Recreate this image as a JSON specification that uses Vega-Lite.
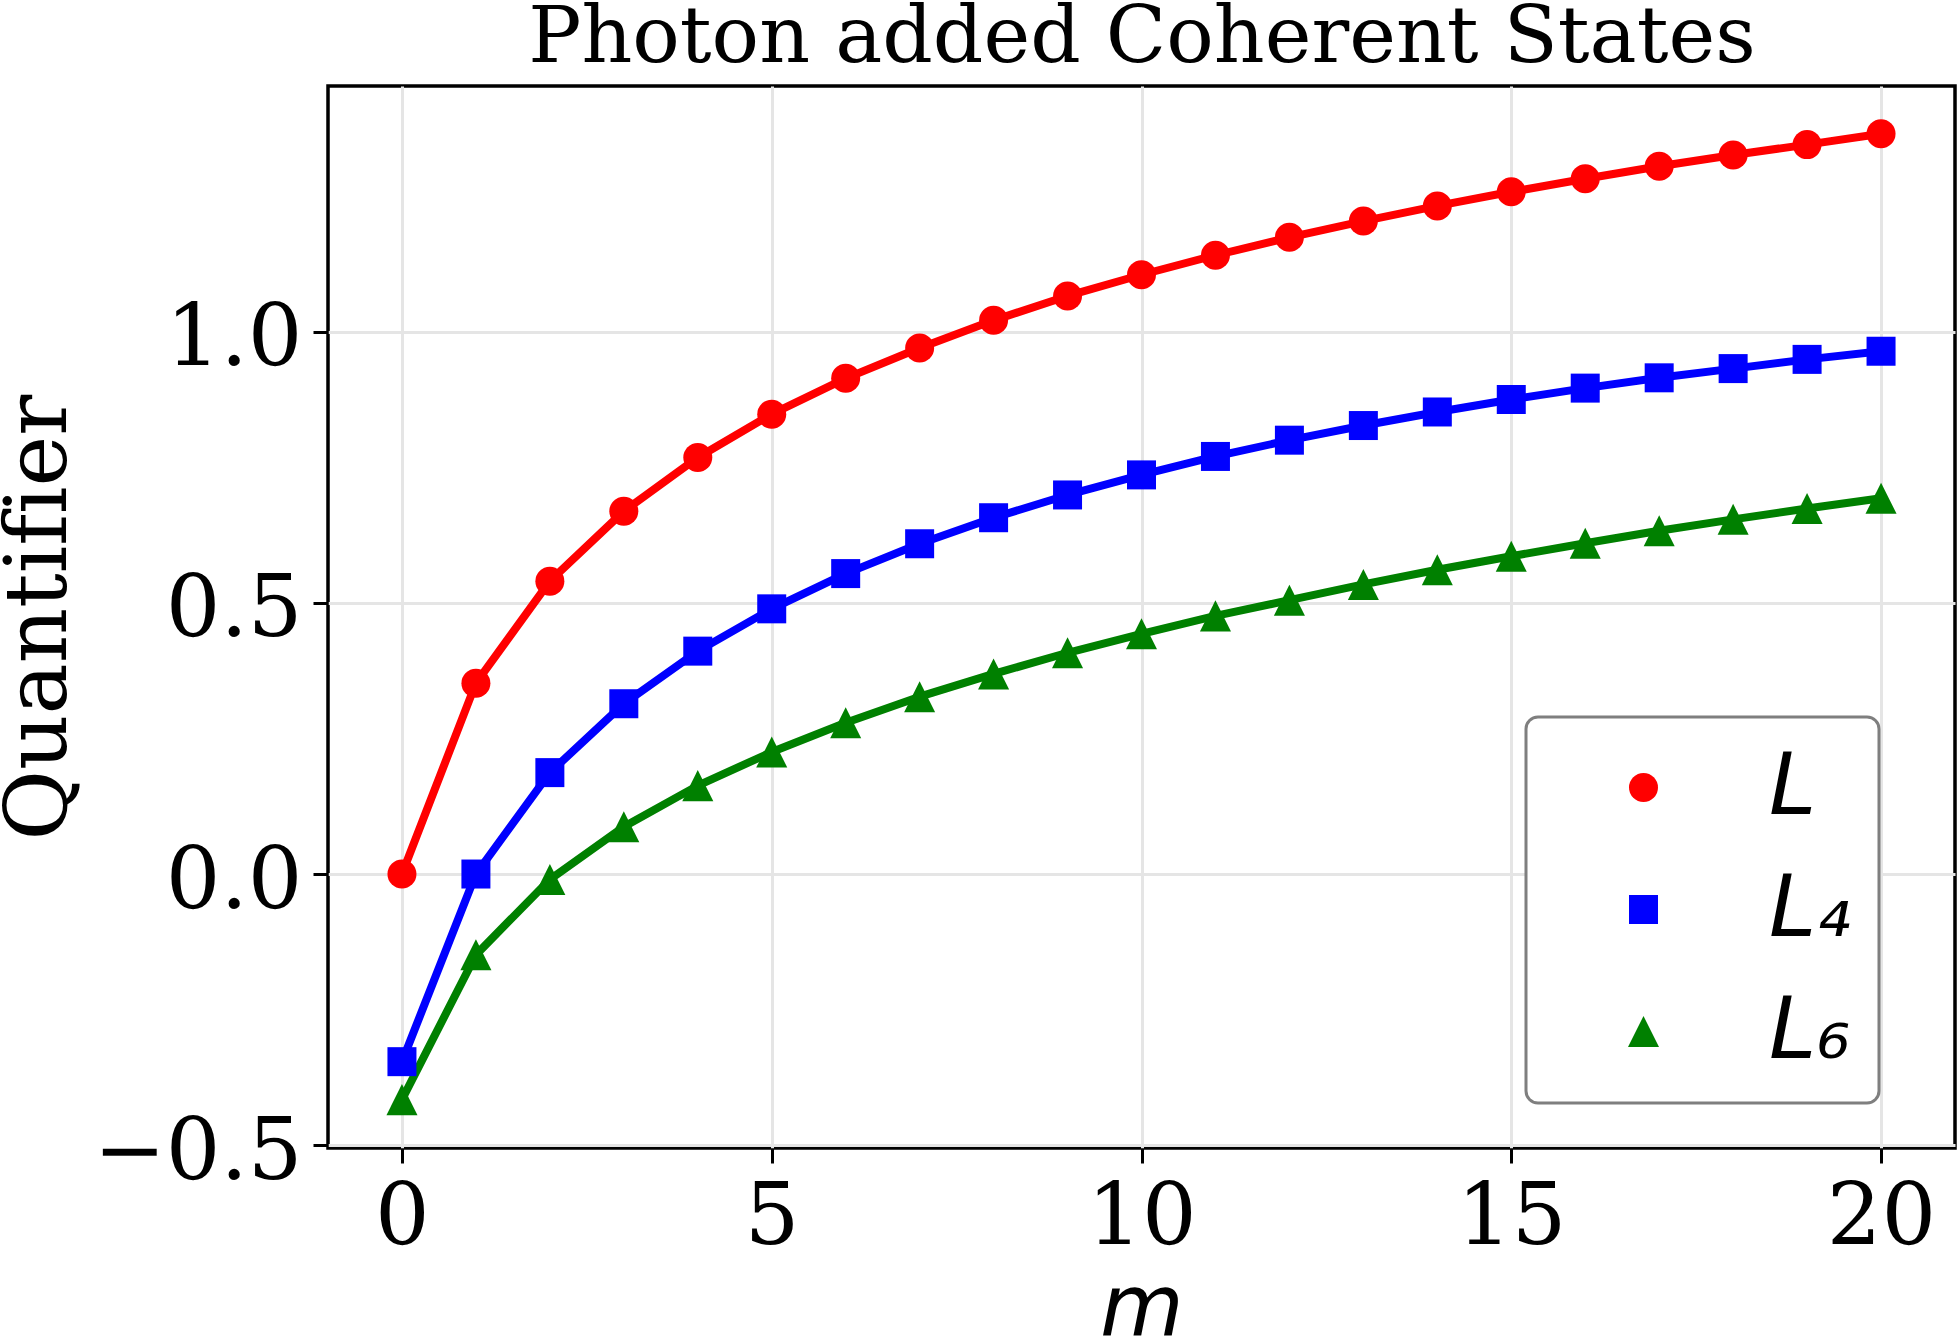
{
  "$schema": "https://vega.github.io/schema/vega-lite/v6.json",
  "width": 1627,
  "height": 1062,
  "autosize": {"type": "none"},
  "padding": {"left": 328, "top": 86, "right": 3, "bottom": 188},
  "background": "white",
  "config": {
    "view": {"stroke": "black", "strokeWidth": 3.5},
    "axis": {
      "grid": true,
      "gridColor": "#e5e5e5",
      "gridWidth": 3,
      "domain": false,
      "ticks": true,
      "tickColor": "black",
      "tickWidth": 3,
      "tickSize": 15,
      "labelFont": "DejaVu Serif",
      "labelFontSize": 86,
      "labelColor": "black",
      "labelLimit": 0,
      "titleColor": "black",
      "titleFontWeight": "normal",
      "titleLimit": 0
    },
    "legend": {"strokeWidth": 3}
  },
  "data": {
    "values": [
      {"m": 0, "value": 0.0, "series": "L"},
      {"m": 1, "value": 0.352, "series": "L"},
      {"m": 2, "value": 0.54, "series": "L"},
      {"m": 3, "value": 0.669, "series": "L"},
      {"m": 4, "value": 0.768, "series": "L"},
      {"m": 5, "value": 0.848, "series": "L"},
      {"m": 6, "value": 0.914, "series": "L"},
      {"m": 7, "value": 0.97, "series": "L"},
      {"m": 8, "value": 1.021, "series": "L"},
      {"m": 9, "value": 1.066, "series": "L"},
      {"m": 10, "value": 1.105, "series": "L"},
      {"m": 11, "value": 1.141, "series": "L"},
      {"m": 12, "value": 1.174, "series": "L"},
      {"m": 13, "value": 1.204, "series": "L"},
      {"m": 14, "value": 1.232, "series": "L"},
      {"m": 15, "value": 1.258, "series": "L"},
      {"m": 16, "value": 1.282, "series": "L"},
      {"m": 17, "value": 1.305, "series": "L"},
      {"m": 18, "value": 1.326, "series": "L"},
      {"m": 19, "value": 1.345, "series": "L"},
      {"m": 20, "value": 1.365, "series": "L"},
      {"m": 0, "value": -0.346, "series": "L₄"},
      {"m": 1, "value": 0.0, "series": "L₄"},
      {"m": 2, "value": 0.187, "series": "L₄"},
      {"m": 3, "value": 0.314, "series": "L₄"},
      {"m": 4, "value": 0.411, "series": "L₄"},
      {"m": 5, "value": 0.489, "series": "L₄"},
      {"m": 6, "value": 0.554, "series": "L₄"},
      {"m": 7, "value": 0.609, "series": "L₄"},
      {"m": 8, "value": 0.657, "series": "L₄"},
      {"m": 9, "value": 0.699, "series": "L₄"},
      {"m": 10, "value": 0.736, "series": "L₄"},
      {"m": 11, "value": 0.77, "series": "L₄"},
      {"m": 12, "value": 0.8, "series": "L₄"},
      {"m": 13, "value": 0.827, "series": "L₄"},
      {"m": 14, "value": 0.852, "series": "L₄"},
      {"m": 15, "value": 0.875, "series": "L₄"},
      {"m": 16, "value": 0.896, "series": "L₄"},
      {"m": 17, "value": 0.915, "series": "L₄"},
      {"m": 18, "value": 0.932, "series": "L₄"},
      {"m": 19, "value": 0.949, "series": "L₄"},
      {"m": 20, "value": 0.964, "series": "L₄"},
      {"m": 0, "value": -0.416, "series": "L₆"},
      {"m": 1, "value": -0.149, "series": "L₆"},
      {"m": 2, "value": -0.01, "series": "L₆"},
      {"m": 3, "value": 0.087, "series": "L₆"},
      {"m": 4, "value": 0.163, "series": "L₆"},
      {"m": 5, "value": 0.225, "series": "L₆"},
      {"m": 6, "value": 0.279, "series": "L₆"},
      {"m": 7, "value": 0.327, "series": "L₆"},
      {"m": 8, "value": 0.369, "series": "L₆"},
      {"m": 9, "value": 0.408, "series": "L₆"},
      {"m": 10, "value": 0.443, "series": "L₆"},
      {"m": 11, "value": 0.476, "series": "L₆"},
      {"m": 12, "value": 0.505, "series": "L₆"},
      {"m": 13, "value": 0.534, "series": "L₆"},
      {"m": 14, "value": 0.561, "series": "L₆"},
      {"m": 15, "value": 0.586, "series": "L₆"},
      {"m": 16, "value": 0.61, "series": "L₆"},
      {"m": 17, "value": 0.633, "series": "L₆"},
      {"m": 18, "value": 0.654, "series": "L₆"},
      {"m": 19, "value": 0.674, "series": "L₆"},
      {"m": 20, "value": 0.693, "series": "L₆"}
    ]
  },
  "encoding": {
    "y": {
      "field": "value",
      "type": "quantitative",
      "scale": {"domain": [-0.5052, 1.4531], "nice": false, "zero": false},
      "axis": {
        "values": [-0.5, 0, 0.5, 1],
        "format": ".1f",
        "labelPadding": 11,
        "labelOffset": 7,
        "title": "Quantif‌ier",
        "titleFont": "DejaVu Serif",
        "titleFontSize": 86,
        "titleAngle": -90,
        "titleAlign": "center",
        "titleBaseline": "alphabetic",
        "titleX": -263,
        "titleY": 531
      }
    }
  },
  "layer": [
    {
      "mark": {"type": "line", "strokeWidth": 8, "strokeJoin": "round"},
      "encoding": {
        "x": {
          "field": "m",
          "type": "quantitative",
          "scale": {"domain": [-1, 21], "nice": false, "zero": false},
          "axis": {
            "values": [0, 5, 10, 15, 20],
            "format": "d",
            "labelPadding": 12,
            "title": "m",
            "titleFont": "DejaVu Sans",
            "titleFontStyle": "italic",
            "titleFontSize": 86,
            "titleBaseline": "alphabetic",
            "titleY": 186
          }
        },
        "color": {
          "field": "series",
          "type": "nominal",
          "scale": {"domain": ["L", "L₄", "L₆"], "range": ["#ff0000", "#0000ff", "#008000"]},
          "legend": {
            "title": null,
            "orient": "none",
            "legendX": 1198,
            "legendY": 631,
            "direction": "vertical",
            "fillColor": "white",
            "strokeColor": "#7f7f7f",
            "cornerRadius": 12,
            "padding": 28,
            "rowPadding": 36,
            "symbolSize": 841,
            "symbolStrokeWidth": 0,
            "symbolOffset": 47,
            "labelOffset": 83,
            "labelFont": "DejaVu Sans",
            "labelFontStyle": "italic",
            "labelFontSize": 85,
            "labelColor": "black",
            "labelBaseline": "middle",
            "labelLimit": 0
          }
        }
      }
    },
    {
      "mark": {"type": "point", "filled": true, "opacity": 1, "size": 841},
      "encoding": {
        "x": {
          "field": "m",
          "type": "quantitative",
          "scale": {"domain": [-1, 21], "nice": false, "zero": false},
          "axis": {
            "orient": "top",
            "labels": false,
            "ticks": false,
            "grid": false,
            "domain": false,
            "title": "Photon added Coherent States",
            "titleFont": "DejaVu Serif",
            "titleFontSize": 79,
            "titleBaseline": "alphabetic",
            "titleY": -25
          }
        },
        "color": {
          "field": "series",
          "type": "nominal",
          "scale": {"domain": ["L", "L₄", "L₆"], "range": ["#ff0000", "#0000ff", "#008000"]}
        },
        "shape": {
          "field": "series",
          "type": "nominal",
          "scale": {"domain": ["L", "L₄", "L₆"], "range": ["circle", "square", "M0,-1.07L1.07,1.07L-1.07,1.07Z"]}
        }
      }
    }
  ],
  "resolve": {"axis": {"x": "independent"}}
}
